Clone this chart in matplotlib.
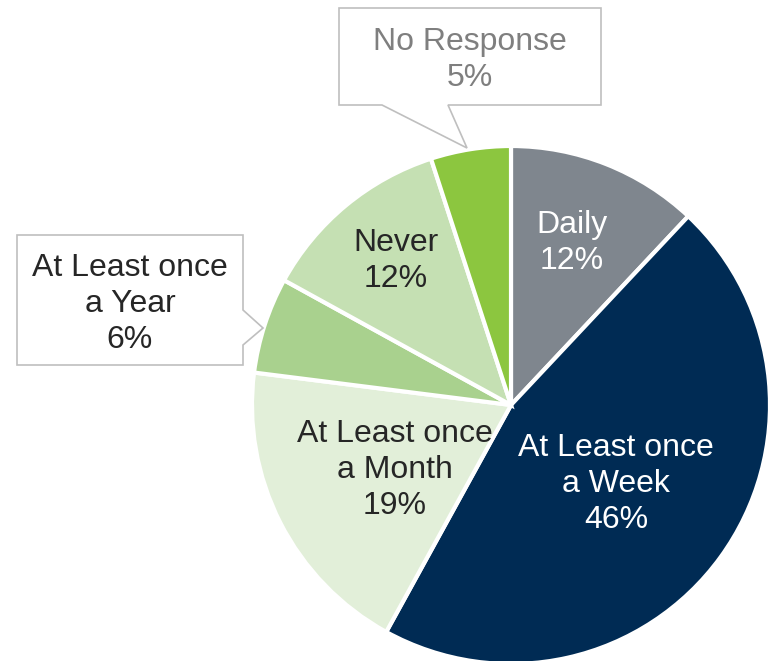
import matplotlib
matplotlib.use("Agg")
import matplotlib.pyplot as plt
from matplotlib.patches import Polygon

categories = ["Daily", "At Least once\na Week", "At Least once\na Month",
              "At Least once\na Year", "Never", "No Response"]
values = [12, 46, 19, 6, 12, 5]
colors = ["#7f868e", "#002b54", "#e2efd9", "#a9d18e", "#c5e0b3", "#8cc63f"]
text_colors = ["white", "white", "#262626", "#262626", "#262626", "#7f7f7f"]

W, H = 771, 661
fig = plt.figure(figsize=(W / 100, H / 100), dpi=100)
ax = fig.add_axes([0, 0, 1, 1])

def fy(y):
    return H - y

ax.pie(values, colors=colors, startangle=90, counterclock=False,
       center=(511, fy(405)), radius=259,
       wedgeprops=dict(edgecolor="white", linewidth=3))
ax.set_xlim(0, W)
ax.set_ylim(0, H)
ax.set_aspect("equal")
ax.axis("off")

font = "Liberation Sans"
fs = 23
ls = 1.27

# inside labels
inside = {0: (572, 243), 1: (616, 484), 2: (395, 470), 4: (396, 261)}
for i, (x, y) in inside.items():
    ax.text(x, fy(y), f"{categories[i]}\n{values[i]}%", ha="center", va="center",
            fontsize=fs, family=font, color=text_colors[i], linespacing=ls)

# callout for No Response
box1 = [(339, 8), (601, 8), (601, 105), (448, 105), (467, 148), (382, 105), (339, 105)]
ax.add_patch(Polygon([(x, fy(y)) for x, y in box1], closed=True, facecolor="white",
                     edgecolor="#bfbfbf", linewidth=1.2, zorder=5))
ax.text(470, fy(60), f"{categories[5]}\n{values[5]}%", ha="center", va="center",
        fontsize=fs, family=font, color=text_colors[5], linespacing=ls, zorder=6)

# callout for Year
box2 = [(17, 235), (243, 235), (243, 310), (263, 328), (243, 345), (243, 365), (17, 365)]
ax.add_patch(Polygon([(x, fy(y)) for x, y in box2], closed=True, facecolor="white",
                     edgecolor="#bfbfbf", linewidth=1.2, zorder=5))
ax.text(130, fy(304), f"{categories[3]}\n{values[3]}%", ha="center", va="center",
        fontsize=fs, family=font, color=text_colors[3], linespacing=ls, zorder=6)

fig.savefig("out.png", dpi=100)
